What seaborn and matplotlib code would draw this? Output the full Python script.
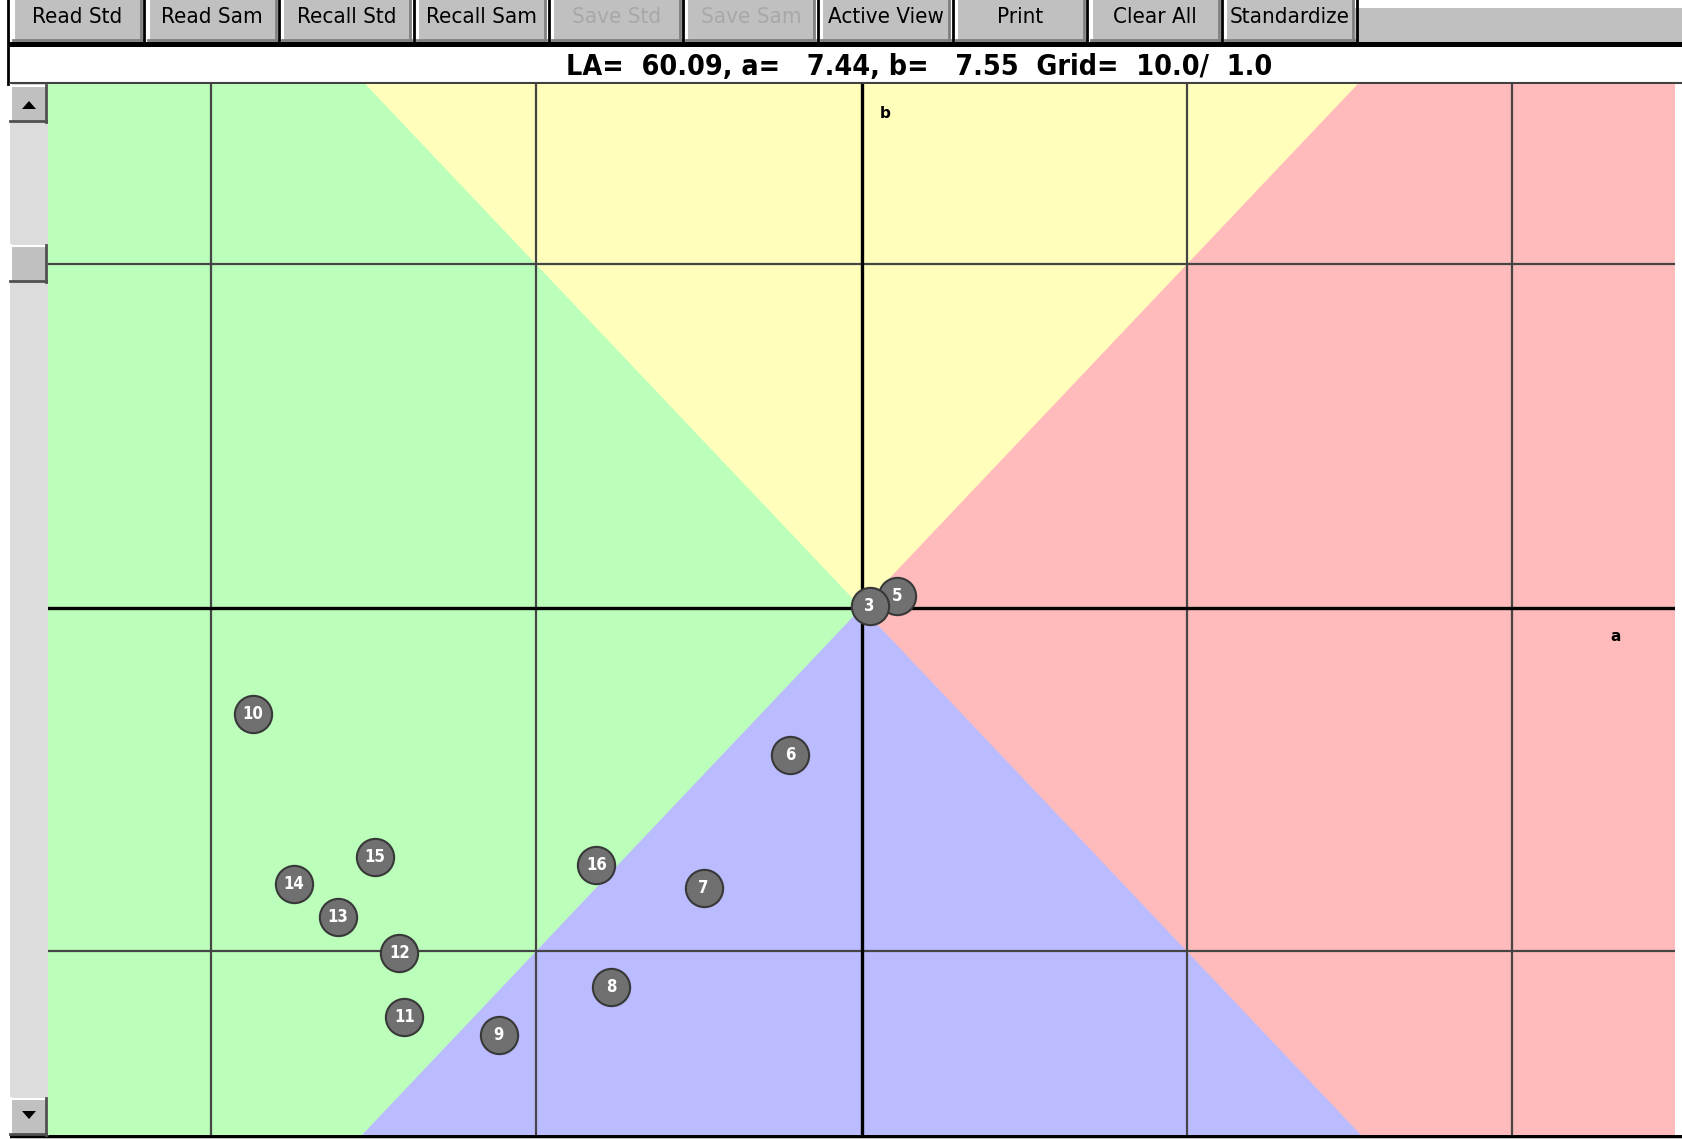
import seaborn as sns
import matplotlib.pyplot as plt
from matplotlib.patches import Rectangle, Polygon
import pandas as pd

# Sample points on the a/b plane (point number, a, b)
point_ids = ["5", "3", "6", "7", "8", "9", "10", "11", "12", "13", "14", "15", "16"]
a_values = [1.1, 0.25, -2.2, -4.85, -7.7, -11.15, -18.7, -14.05, -14.2, -16.1, -17.45, -14.95, -8.15]
b_values = [0.35, 0.05, -4.3, -8.15, -11.05, -12.45, -3.1, -11.9, -10.05, -9.0, -8.05, -7.25, -7.5]

button_labels = ["Read Std", "Read Sam", "Recall Std", "Recall Sam", "Save Std",
                 "Save Sam", "Active View", "Print", "Clear All", "Standardize"]
disabled_buttons = ["Save Std", "Save Sam"]
header_text = "LA=  60.09, a=   7.44, b=   7.55  Grid=  10.0/  1.0"
grid_a = [-20, -10, 10, 20]
grid_b = [-10, 10]

A_MIN, A_MAX = -25, 25
B_MIN, B_MAX = -15.35, 15.25

W, H = 1682, 1139
fig = plt.figure(figsize=(W / 100, H / 100), dpi=100)
fig.patch.set_facecolor("white")
ui_font = ["DejaVu Sans"]

# window chrome drawn in pixel coordinates
ui = fig.add_axes([0, 0, 1, 1])
ui.set_xlim(0, W)
ui.set_ylim(H, 0)
ui.axis("off")

ui.add_patch(Rectangle((1355, 8), W - 1355, 34, color="#c0c0c0", lw=0))
for i, label in enumerate(button_labels):
    x0 = 13 + i * 134.7
    bw = 129
    ui.add_patch(Rectangle((x0, 0), bw, 42, color="#c0c0c0", lw=0))
    ui.plot([x0 + 1, x0 + 1], [0, 40], color="white", lw=1.5)
    ui.plot([x0, x0 + bw], [39.5, 39.5], color="#808080", lw=2)
    ui.plot([x0 + bw - 1, x0 + bw - 1], [0, 40], color="#808080", lw=2)
    ui.plot([x0 + bw + 2.5, x0 + bw + 2.5], [0, 42], color="black", lw=2)
    col = "#a8a8a8" if label in disabled_buttons else "black"
    ui.text(x0 + bw / 2, 17, label, ha="center", va="center", fontsize=16,
            color=col, family=ui_font, fontstretch="condensed", clip_on=True)
ui.plot([8.5, 8.5], [0, 84], color="black", lw=2)
ui.add_patch(Rectangle((8, 42), W - 8, 4.5, color="black", lw=0))
ui.plot([10, W], [83, 83], color="#404040", lw=1.5)
ui.text(566, 67, header_text, ha="left", va="center", fontsize=20.5,
        fontweight="bold", family=ui_font, fontstretch="condensed")

# scrollbar on the left
ui.add_patch(Rectangle((10, 84), 38, 1051, color="#dcdcdc", lw=0))
for y0 in (85, 245, 1098):
    ui.add_patch(Rectangle((10, y0), 37, 37, facecolor="#c0c0c0", edgecolor="none"))
    ui.plot([11, 11], [y0, y0 + 36], color="white", lw=1.5)
    ui.plot([11, 47], [y0 + 1, y0 + 1], color="white", lw=1.5)
    ui.plot([10, 47], [y0 + 36, y0 + 36], color="#505050", lw=2)
    ui.plot([46.5, 46.5], [y0, y0 + 37], color="#505050", lw=2)
ui.add_patch(Polygon([(22, 109), (36, 109), (29, 101)], color="black", lw=0))
ui.add_patch(Polygon([(22, 1111), (36, 1111), (29, 1119)], color="black", lw=0))
ui.add_patch(Rectangle((10, 1135), W - 10, 2.5, color="black", lw=0))
ui.add_patch(Rectangle((10, 1137.5), W - 10, 2, color="#c0c0c0", lw=0))

# main a/b plot
ax = fig.add_axes([48 / W, 1 - 1135 / H, (1675 - 48) / W, (1135 - 84) / H])
ax.set_xlim(A_MIN, A_MAX)
ax.set_ylim(B_MIN, B_MAX)
ax.axis("off")

ax.fill([A_MIN, 0, A_MIN, A_MIN - 20], [B_MAX + 20, 0, B_MIN - 20, 0], color="#bbffbb", lw=0)
ax.fill([A_MAX, 0, A_MAX, A_MAX + 20], [B_MAX + 20, 0, B_MIN - 20, 0], color="#ffbbbb", lw=0)
ax.fill([-30, 0, 30], [30, 0, 30], color="#ffffbb", lw=0)
ax.fill([-30, 0, 30], [-30, 0, -30], color="#bbbbff", lw=0)

for g in grid_a:
    ax.axvline(g, color="#454545", lw=1.6)
for g in grid_b:
    ax.axhline(g, color="#454545", lw=1.6)
ax.axvline(0, color="black", lw=2.4)
ax.axhline(0, color="black", lw=2.4)
ax.text(0.55, 14.4, "b", fontsize=11, fontweight="bold", va="center")
ax.text(23.0, -0.85, "a", fontsize=11, fontweight="bold", va="center")

df = pd.DataFrame({"a": a_values, "b": b_values, "id": point_ids})
sns.scatterplot(data=df, x="a", y="b", s=720, color="#707070", edgecolor="#383838",
                linewidth=1.5, ax=ax, zorder=5, legend=False)
for _, row in df.iterrows():
    ax.text(row["a"], row["b"], row["id"], ha="center", va="center", color="white",
            fontsize=12, fontweight="bold", zorder=6, fontstretch="condensed")
ax.set_xlim(A_MIN, A_MAX)
ax.set_ylim(B_MIN, B_MAX)

fig.savefig("out.png", dpi=100)
